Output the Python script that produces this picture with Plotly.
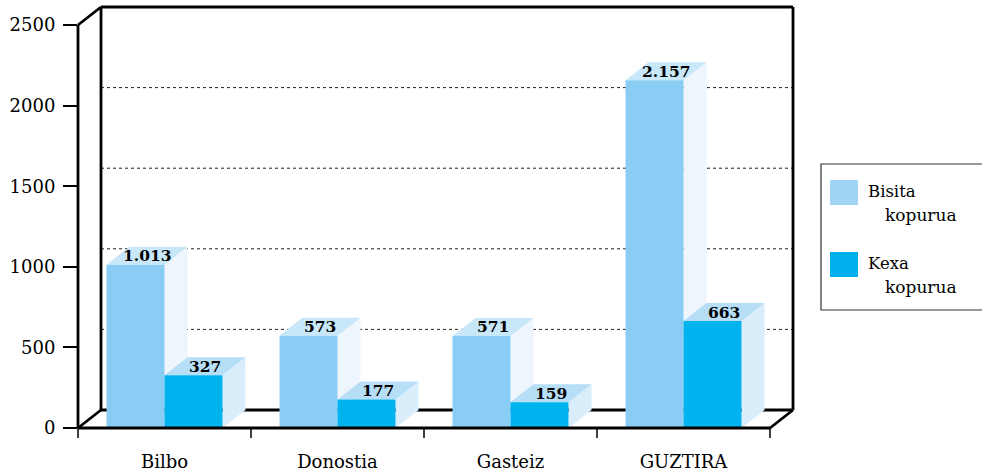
import plotly.graph_objects as go

categories = ["Bilbo", "Donostia", "Gasteiz", "GUZTIRA"]
bisita = [1013, 573, 571, 2157]
kexa = [327, 177, 159, 663]
series_names = ["Bisita<br>kopurua", "Kexa<br>kopurua"]
y_ticks = [0, 500, 1000, 1500, 2000, 2500]

W, H = 982, 475
L, R, T, B = 78, 188, 7, 47
pw, ph = W - L - R, H - T - B
cat_px = 173.0
val_px = 403.0 / 2500.0
X0 = -0.5
X1 = X0 + pw / cat_px
Y0 = 0.0
Y1 = ph / val_px
DX = 23.0 / cat_px
DY = 18.0 / val_px
BW = 58.0 / cat_px

front_c = ["#89CDF4", "#00B2EE"]
top_c = ["#C8E7F9", "#B6DEF7"]
side_c = ["#EEF5FD", "#D9EDFB"]


def px_(v):
    return (v - X0) / (X1 - X0)


def py_(v):
    return (v - Y0) / (Y1 - Y0)


fig = go.Figure()
for s, (vals, off) in enumerate([(bisita, -BW), (kexa, 0.0)]):
    fig.add_trace(go.Bar(
        x=list(range(len(categories))), y=vals, width=BW, offset=off,
        marker=dict(color=front_c[s], line=dict(width=0)),
        showlegend=False, hoverinfo="y"))

shapes = []
for t in y_ticks[1:-1]:
    shapes.append(dict(type="line", xref="paper", yref="paper",
                       x0=px_(X0 + DX), x1=px_(3.5 + DX), y0=py_(t + DY), y1=py_(t + DY),
                       line=dict(color="#222", width=1, dash="dot"), layer="below"))
lw = 2.8
back = [((X0 + DX, DY), (X0 + DX, 2500 + DY)),
        ((X0 + DX, 2500 + DY), (3.5 + DX, 2500 + DY)),
        ((3.5 + DX, 2500 + DY), (3.5 + DX, DY)),
        ((X0 + DX, DY), (3.5 + DX, DY))]
for (a, b) in back:
    shapes.append(dict(type="line", xref="paper", yref="paper",
                       x0=px_(a[0]), y0=py_(a[1]), x1=px_(b[0]), y1=py_(b[1]),
                       line=dict(color="black", width=lw), layer="below"))
for s, (vals, off) in enumerate([(bisita, -BW), (kexa, 0.0)]):
    for i, v in enumerate(vals):
        x0 = i + off
        x1 = x0 + BW
        side = f"M {x1},0 L {x1 + DX},{DY} L {x1 + DX},{v + DY} L {x1},{v} Z"
        top = f"M {x0},{v} L {x1},{v} L {x1 + DX},{v + DY} L {x0 + DX},{v + DY} Z"
        shapes.append(dict(type="path", xref="x", yref="y", path=side,
                           fillcolor=side_c[s], line=dict(width=0), layer="below"))
        shapes.append(dict(type="path", xref="x", yref="y", path=top,
                           fillcolor=top_c[s], line=dict(width=0), layer="below"))
front = [((X0, 0), (X0, 2500)),
         ((X0, 2500), (X0 + DX, 2500 + DY)),
         ((X0, 0), (X0 + DX, DY)),
         ((X0, 0), (3.5, 0)),
         ((3.5, 0), (3.5 + DX, DY))]
for (a, b) in front:
    shapes.append(dict(type="line", xref="paper", yref="paper",
                       x0=px_(a[0]), y0=py_(a[1]), x1=px_(b[0]), y1=py_(b[1]),
                       line=dict(color="black", width=lw), layer="above"))

annotations = []
for s, (vals, off) in enumerate([(bisita, -BW), (kexa, 0.0)]):
    for i, v in enumerate(vals):
        annotations.append(dict(
            x=i + off + BW / 2 + DX / 2, y=v + DY / 2, xref="x", yref="y",
            text=f"<b>{v:,}</b>".replace(",", "."), showarrow=False,
            font=dict(family="DejaVu Serif", size=15.5, color="black"),
            xanchor="center", yanchor="middle"))


def ppx(p):
    return (p - L) / pw


def ppy(p):
    return 1 - (p - T) / ph


shapes.append(dict(type="rect", xref="paper", yref="paper",
                   x0=ppx(821), x1=ppx(990), y0=ppy(310), y1=ppy(164),
                   line=dict(color="#333", width=1.2), fillcolor="rgba(0,0,0,0)"))
legend_c = ["#9FD4F5", "#00B0EC"]
for k, (sy, name) in enumerate([(180, series_names[0]), (252, series_names[1])]):
    shapes.append(dict(type="rect", xref="paper", yref="paper",
                       x0=ppx(830), x1=ppx(858), y0=ppy(sy + 25), y1=ppy(sy),
                       line=dict(width=0), fillcolor=legend_c[k]))
    first, second = name.split("<br>")
    annotations.append(dict(x=ppx(866), y=ppy(sy + 11), xref="paper", yref="paper",
                            text=first, showarrow=False, xanchor="left", yanchor="middle",
                            font=dict(family="DejaVu Serif", size=16.5, color="black")))
    annotations.append(dict(x=ppx(883), y=ppy(sy + 35), xref="paper", yref="paper",
                            text=second, showarrow=False, xanchor="left", yanchor="middle",
                            font=dict(family="DejaVu Serif", size=17, color="black")))

fig.update_layout(
    width=W, height=H, margin=dict(l=L, r=R, t=T, b=B, autoexpand=False),
    paper_bgcolor="white", plot_bgcolor="white", barmode="overlay",
    shapes=shapes, annotations=annotations,
    font=dict(family="DejaVu Serif", color="black"),
    xaxis=dict(range=[X0, X1], tickmode="array",
               tickvals=list(range(len(categories))), ticktext=categories,
               showgrid=False, zeroline=False, showline=False,
               ticks="", tickfont=dict(size=18), ticklabelstandoff=21),
    yaxis=dict(range=[Y0, Y1], tickmode="array", tickvals=y_ticks,
               ticktext=[str(t) for t in y_ticks],
               showgrid=False, zeroline=False, showline=False,
               ticks="outside", ticklen=14, tickwidth=1.5, tickcolor="black",
               tickfont=dict(size=18), ticklabelstandoff=4),
)
for b in [X0 + k for k in range(len(categories) + 1)]:
    fig.add_shape(type="line", xref="paper", yref="paper",
                  x0=px_(b), x1=px_(b), y0=0, y1=-10 / ph,
                  line=dict(color="black", width=1.5))

fig.write_html("out.html", config={"displayModeBar": False},
               post_script="document.body.style.margin='0';document.body.style.overflow='hidden';")
